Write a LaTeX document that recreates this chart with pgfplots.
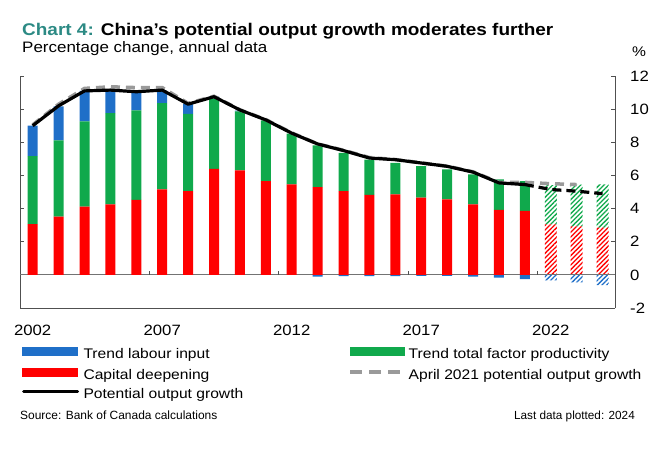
\documentclass[border=0pt]{standalone}
\usepackage{pgfplots}
\usepackage{pgfplotstable}
\pgfplotsset{compat=1.18}
\usetikzlibrary{patterns.meta}
\usepackage{fontspec}
\setmainfont{Liberation Sans}[FakeStretch=1.12]
\newfontfamily\plainfont{Liberation Sans}
\definecolor{cblue}{HTML}{1F6FC8}
\definecolor{cred}{HTML}{FF0000}
\definecolor{cgreen}{HTML}{10A94C}
\definecolor{cteal}{HTML}{2C8A84}
\definecolor{cgray}{HTML}{9A9A9A}
\definecolor{axgray}{HTML}{505050}

% historical components (blue = positive trend labour input part)
\pgfplotstableread{
year red green blue
2002 3.06 4.10 1.84
2003 3.52 4.60 2.04
2004 4.12 5.14 1.84
2005 4.26 5.50 1.36
2006 4.52 5.40 1.14
2007 5.16 5.20 0.76
2008 5.06 4.66 0.62
2009 6.40 4.25 0.10
2010 6.30 3.56 0.05
2011 5.66 3.66 0.00
2012 5.46 3.06 0.00
2013 5.30 2.52 0.00
2014 5.06 2.30 0.00
2015 4.82 2.14 0.00
2016 4.86 1.90 0.00
2017 4.66 1.90 0.00
2018 4.56 1.80 0.00
2019 4.26 1.80 0.00
2020 3.92 1.84 0.00
2021 3.86 1.80 0.00
}\hist
% negative trend labour input
\pgfplotstableread{
year blue
2013 -0.10
2014 -0.08
2015 -0.08
2016 -0.08
2017 -0.06
2018 -0.06
2019 -0.10
2020 -0.16
2021 -0.26
}\neg
% projections
\pgfplotstableread{
year red green blue
2022 3.04 2.38 -0.34
2023 2.92 2.53 -0.45
2024 2.85 2.61 -0.62
}\proj
\pgfplotstableread{
year val
2002 9.00
2003 10.20
2004 11.10
2005 11.15
2006 11.05
2007 11.15
2008 10.30
2009 10.75
2010 9.95
2011 9.35
2012 8.55
2013 7.90
2014 7.50
2015 7.05
2016 6.95
2017 6.75
2018 6.55
2019 6.20
2020 5.55
2021 5.45
}\pot
\pgfplotstableread{
year val
2021 5.45
2022 5.15
2023 5.05
2024 4.90
}\potproj
\pgfplotstableread{
year val
2002 9.05
2003 10.30
2004 11.25
2005 11.35
2006 11.30
2007 11.30
2008 10.35
2009 10.78
2010 9.96
2011 9.37
2012 8.57
2013 7.90
2014 7.52
2015 7.08
2016 6.96
2017 6.76
2018 6.56
2019 6.22
2020 5.58
2021 5.58
2022 5.50
2023 5.45
}\april

\pgfplotsset{base/.style={
  scale only axis, width=595bp, height=232bp,
  xmin=-0.49, xmax=22.48, ymin=-2, ymax=12,
  at={(20bp,145bp)}, anchor=south west,
}}
\newcommand{\tfont}{\fontsize{15}{18}\selectfont}
\newcommand{\lfont}{\fontsize{14}{16}\selectfont}

\begin{document}
\begin{tikzpicture}
\path[use as bounding box] (0,0) rectangle (670bp,453bp);

% negative labour bars
\begin{axis}[base, hide axis, ybar, bar width=10bp]
\addplot[fill=cblue, draw=none, bar shift=0pt] table[x expr=\thisrow{year}-2002,y=blue] {\neg};
\addplot[draw=none, bar width=12bp, bar shift=0pt, pattern={Lines[angle=45,distance=3.3bp,line width=1.3bp]}, pattern color=cblue] table[x expr=\thisrow{year}-2002,y=blue] {\proj};
\end{axis}

% projected capital + TFP (hatched)
\begin{axis}[base, hide axis, ybar stacked, bar width=12bp]
\addplot[draw=none, pattern={Lines[angle=45,distance=3.3bp,line width=1.3bp]}, pattern color=cred] table[x expr=\thisrow{year}-2002,y=red] {\proj};
\addplot[draw=none, pattern={Lines[angle=45,distance=3.3bp,line width=1.3bp]}, pattern color=cgreen] table[x expr=\thisrow{year}-2002,y=green] {\proj};
\end{axis}

% main axis with historical bars
\begin{axis}[base, ybar stacked, bar width=10bp,
  axis x line*=bottom, axis y line*=box,
  axis line style={axgray, line width=0.8bp},
  xtick={0,5,10,15,20},
  xticklabels={2002,2007,2012,2017,2022},
  x tick style={draw=none},
  xticklabel style={font=\tfont, inner sep=0pt, anchor=north, yshift=-17bp},
  ytick={-2,0,2,4,6,8,10,12},
  ytick pos=both, yticklabel pos=right,
  y tick style={axgray, line width=0.8bp},
  tick align=inside, major tick length=4bp,
  yticklabel style={font=\tfont, inner sep=0pt, anchor=west, xshift=15bp},
  /pgf/number format/assume math mode=true,
  extra y ticks={0}, extra y tick labels={},
  extra y tick style={grid=major, major grid style={axgray!80, line width=0.8bp}, major tick length=0pt},
  clip=false,
  legend columns=2,
  legend cell align=left,
  legend style={draw=none, fill=none, inner sep=0pt, outer sep=0pt,
    anchor=north west, at={(axis description cs:0.0034,-0.166)},
    column sep=4.5bp, row sep=6.3bp,
    nodes={font=\lfont, inner sep=0pt, text height=10bp, text depth=3bp}},
]
\addplot[fill=cred, draw=none, forget plot] table[x expr=\thisrow{year}-2002,y=red] {\hist};
\addplot[fill=cgreen, draw=none, forget plot] table[x expr=\thisrow{year}-2002,y=green] {\hist};
\addplot[fill=cblue, draw=none, forget plot] table[x expr=\thisrow{year}-2002,y=blue] {\hist};

\addlegendimage{legend image code/.code={\fill[cblue] (0bp,0bp) rectangle (55bp,8bp);}}
\addlegendentry{\makebox[260bp][l]{Trend labour input}}
\addlegendimage{legend image code/.code={\fill[cgreen] (0bp,0bp) rectangle (54bp,8bp);}}
\addlegendentry{Trend total factor productivity}
\addlegendimage{legend image code/.code={\fill[cred] (0bp,0bp) rectangle (55bp,8bp);}}
\addlegendentry{\makebox[260bp][l]{Capital deepening}}
\addlegendimage{legend image code/.code={\draw[cgray, line width=4bp, dash pattern=on 12bp off 7bp] (0bp,4bp) -- (52bp,4bp);}}
\addlegendentry{April 2021 potential output growth}
\addlegendimage{legend image code/.code={\draw[black, line width=3bp, line cap=round] (1bp,4bp) -- (55bp,4bp);}}
\addlegendentry{Potential output growth}
\end{axis}

% lines on top
\begin{axis}[base, hide axis, clip=false]
\addplot[cgray, line width=3.5bp, dash pattern=on 9bp off 6bp, mark=none] table[x expr=\thisrow{year}-2002,y=val] {\april};
\addplot[black, line width=3.2bp, line join=round, mark=none] table[x expr=\thisrow{year}-2002,y=val] {\pot};
\addplot[black, line width=3.2bp, dash pattern=on 9bp off 5bp, mark=none] table[x expr=\thisrow{year}-2002,y=val] {\potproj};
\pgfplotsinvokeforeach{4.5,9.5,14.5,19.5}{
  \draw[axgray, line width=0.8bp] (axis cs:#1,0) -- (axis cs:#1,0.25);
}
\end{axis}

% titles and notes
\node[anchor=base west, inner sep=0pt] at (22bp,417bp) {\fontsize{17}{20}\selectfont\bfseries\textcolor{cteal}{Chart 4:} China's potential output growth moderates further};
\node[anchor=base west, inner sep=0pt] at (22bp,400bp) {\fontsize{15.2}{18}\selectfont Percentage change, annual data};
\node[anchor=base, inner sep=0pt] at (639bp,396bp) {\fontsize{14}{16}\selectfont\%};
\node[anchor=base west, inner sep=0pt] at (20bp,34bp) {\plainfont\fontsize{12}{14}\selectfont Source: Bank of Canada calculations};
\node[anchor=base east, inner sep=0pt] at (635bp,34bp) {\plainfont\fontsize{11.8}{14}\selectfont Last data plotted: 2024};
\end{tikzpicture}
\end{document}
